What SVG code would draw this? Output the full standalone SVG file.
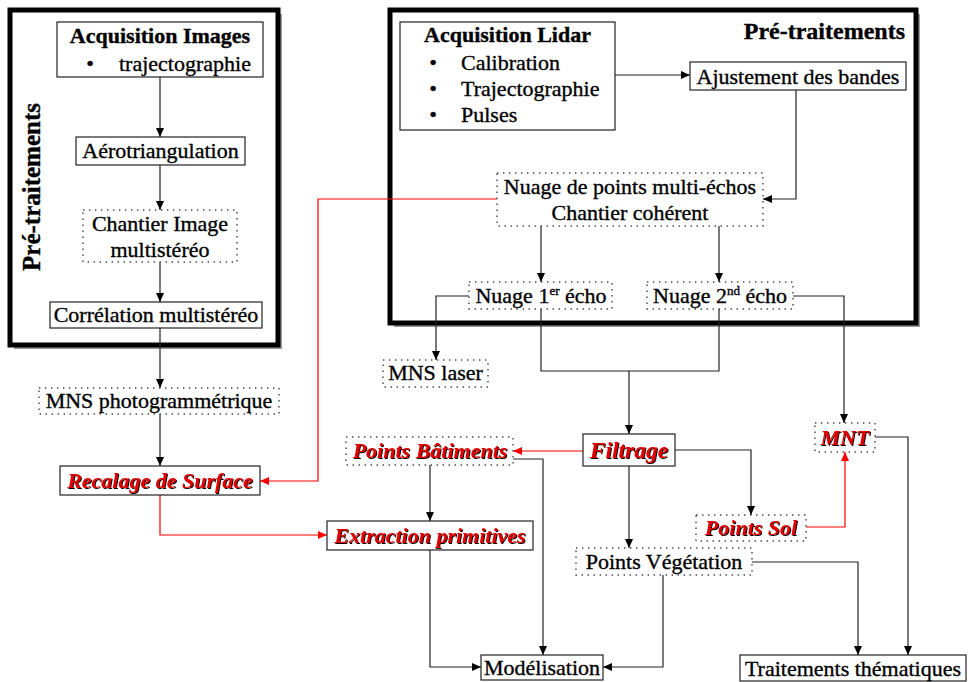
<svg xmlns="http://www.w3.org/2000/svg" width="968" height="682" viewBox="0 0 968 682" font-family="'Liberation Serif', 'Times New Roman', 'DejaVu Serif', serif">
<style>
text{font-family:'Liberation Serif','Times New Roman','DejaVu Serif',serif;font-size:22px;fill:#000;stroke:#000;stroke-width:0.35}
.b{font-weight:bold}
.c{text-anchor:middle}
.r{font-weight:bold;font-style:italic;fill:#e00000;stroke:none;filter:url(#sh)}
.box{fill:#fff;stroke:#222;stroke-width:1.2}
.dot{fill:#fff;stroke:#444;stroke-width:1.4;stroke-dasharray:1.4 4.6}
.big{fill:none;stroke:#000;stroke-width:5}
.bigsh{fill:none;stroke:#999;stroke-width:2}
.ln{fill:none;stroke:#222;stroke-width:1.2}
.a{marker-end:url(#ah)}
.red{fill:none;stroke:#f00;stroke-width:1.2;marker-end:url(#ahr)}
</style>
<defs>
<marker id="ah" markerUnits="userSpaceOnUse" markerWidth="9" markerHeight="8" refX="9" refY="4" orient="auto"><path d="M0,0 L9,4 L0,8 z" fill="#000"/></marker>
<marker id="ahr" markerUnits="userSpaceOnUse" markerWidth="9" markerHeight="8" refX="9" refY="4" orient="auto"><path d="M0,0 L9,4 L0,8 z" fill="#f00"/></marker>
<filter id="sh" x="-5%" y="-20%" width="115%" height="150%"><feOffset in="SourceAlpha" dx="1.3" dy="1.3" result="o"/><feFlood flood-color="#000"/><feComposite in2="o" operator="in" result="s"/><feMerge><feMergeNode in="s"/><feMergeNode in="SourceGraphic"/></feMerge></filter>
</defs>
<rect width="968" height="682" fill="#fff"/>

<g id="frame-images">
<path class="bigsh" d="M14,348 H281 V14"/>
<rect class="big" x="10" y="10" width="268" height="335"/>
<text class="b c" transform="translate(40,187) rotate(-90)" style="font-size:25px">Pré-traitements</text>
</g>
<g id="frame-lidar">
<path class="bigsh" d="M394,326 H919 V14"/>
<rect class="big" x="390" y="10" width="526" height="313"/>
<text class="b" x="905" y="39" text-anchor="end" style="font-size:24px">Pré-traitements</text>
</g>

<g id="connectors">
<path class="ln a" d="M160,77 V137"/>
<path class="ln a" d="M160,165 V210"/>
<path class="ln a" d="M160,262 V302"/>
<path class="ln a" d="M160,328 V388"/>
<path class="ln a" d="M160,414 V466"/>
<path class="red" d="M160,495 V535 H327"/>
<path class="red" d="M497,199 H318 V481 H260"/>
<path class="ln a" d="M615,75 H690"/>
<path class="ln a" d="M796,90 V199 H763"/>
<path class="ln a" d="M541,226 V282"/>
<path class="ln a" d="M719,226 V282"/>
<path class="ln a" d="M469,296 H436 V360"/>
<path class="ln" d="M541,309 V371 H719 V309"/>
<path class="ln a" d="M629,371 V434"/>
<path class="ln a" d="M793,296 H844 V423"/>
<path class="ln a" d="M875,437 H908 V655"/>
<path class="red" d="M583,451 H513"/>
<path class="ln a" d="M513,459 H543 V655"/>
<path class="ln a" d="M430,465 V521"/>
<path class="ln a" d="M430,550 V667 H481"/>
<path class="ln a" d="M663,575 V667 H603"/>
<path class="ln a" d="M629,466 V548"/>
<path class="ln a" d="M675,450 H751 V515"/>
<path class="red" d="M806,527 H845 V452"/>
<path class="ln a" d="M752,562 H858 V655"/>
</g>

<g id="acq-images">
<rect class="box" x="57" y="22" width="206" height="55"/>
<text class="b c" x="160" y="43">Acquisition Images</text>
<text class="c" x="90" y="71">•</text>
<text x="119" y="71">trajectographie</text>
</g>
<g id="aerotriangulation">
<rect class="box" x="76" y="137" width="169" height="28"/>
<text class="c" x="160.5" y="158">Aérotriangulation</text>
</g>
<g id="chantier-image">
<rect class="dot" x="83" y="210" width="154" height="52"/>
<text class="c" x="160" y="231">Chantier Image</text>
<text class="c" x="160" y="257">multistéréo</text>
</g>
<g id="correlation">
<rect class="box" x="50" y="302" width="212" height="26"/>
<text class="c" x="156" y="322">Corrélation multistéréo</text>
</g>
<g id="mns-photo">
<rect class="dot" x="39" y="388" width="240" height="26"/>
<text class="c" x="159" y="408">MNS photogrammétrique</text>
</g>
<g id="recalage">
<rect class="box" x="60" y="466" width="200" height="29"/>
<text class="r c" x="160" y="488">Recalage de Surface</text>
</g>

<g id="acq-lidar">
<rect class="box" x="400" y="22" width="215" height="108"/>
<text class="b c" x="507.5" y="42">Acquisition Lidar</text>
<text class="c" x="433" y="70">•</text><text x="461" y="70">Calibration</text>
<text class="c" x="433" y="96">•</text><text x="461" y="96">Trajectographie</text>
<text class="c" x="433" y="122">•</text><text x="461" y="122">Pulses</text>
</g>
<g id="ajustement">
<rect class="box" x="690" y="62" width="216" height="28"/>
<text class="c" x="798" y="84">Ajustement des bandes</text>
</g>
<g id="nuage-multi">
<rect class="dot" x="497" y="173" width="266" height="53"/>
<text class="c" x="630" y="194">Nuage de points multi-échos</text>
<text class="c" x="630" y="220">Chantier cohérent</text>
</g>
<g id="nuage-1">
<rect class="dot" x="469" y="282" width="143" height="27"/>
<text class="c" x="541" y="303">Nuage 1<tspan dy="-8" style="font-size:13px">er</tspan><tspan dy="8"> écho</tspan></text>
</g>
<g id="nuage-2">
<rect class="dot" x="647" y="282" width="146" height="27"/>
<text class="c" x="720" y="303">Nuage 2<tspan dy="-8" style="font-size:13px">nd</tspan><tspan dy="8"> écho</tspan></text>
</g>
<g id="mns-laser">
<rect class="dot" x="383" y="360" width="105" height="27"/>
<text class="c" x="435.5" y="380">MNS laser</text>
</g>
<g id="filtrage">
<rect class="box" x="583" y="434" width="92" height="32"/>
<text class="r c" x="629" y="458" style="font-size:23.5px">Filtrage</text>
</g>
<g id="points-batiments">
<rect class="dot" x="346" y="437" width="167" height="28"/>
<text class="r c" x="430" y="458">Points Bâtiments</text>
</g>
<g id="extraction">
<rect class="box" x="327" y="521" width="206" height="29"/>
<text class="r c" x="430" y="543">Extraction primitives</text>
</g>
<g id="mnt">
<rect class="dot" x="815" y="423" width="60" height="29"/>
<text class="r c" x="845" y="445">MNT</text>
</g>
<g id="points-sol">
<rect class="dot" x="696" y="515" width="110" height="26"/>
<text class="r c" x="751" y="535">Points Sol</text>
</g>
<g id="points-vegetation">
<rect class="dot" x="576" y="548" width="176" height="27"/>
<text class="c" x="664" y="569">Points Végétation</text>
</g>
<g id="modelisation">
<rect class="box" x="481" y="655" width="122" height="25"/>
<text class="c" x="542" y="675">Modélisation</text>
</g>
<g id="traitements">
<rect class="box" x="740" y="655" width="226" height="26"/>
<text class="c" x="853" y="676">Traitements thématiques</text>
</g>
</svg>
